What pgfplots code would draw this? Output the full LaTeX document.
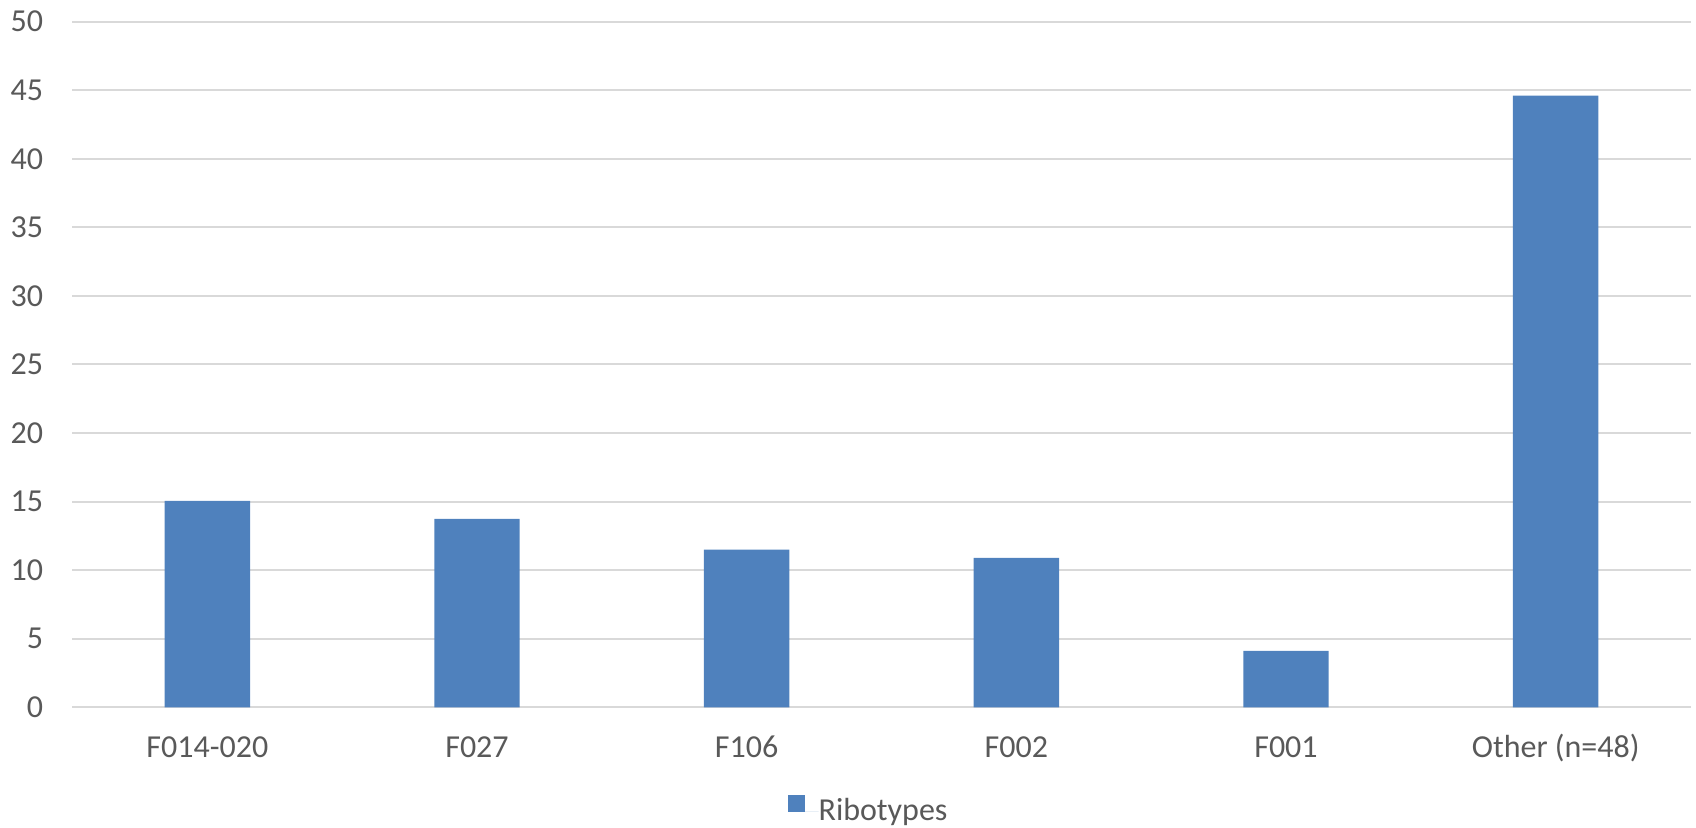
\documentclass[border=0pt]{standalone}
\usepackage{pgfplots}
\pgfplotsset{compat=1.18}
\usepackage{fontspec}
\setmainfont{Carlito}
\definecolor{barblue}{HTML}{4F81BD}
\definecolor{txtgray}{HTML}{595959}
\definecolor{gridgray}{HTML}{D9D9D9}
\begin{document}
\fontsize{16pt}{19pt}\selectfont
\begin{tikzpicture}
\path[use as bounding box] (-36.25pt,-60.3pt) rectangle (811.75pt,353.7pt);
\begin{axis}[
  at={(0pt,0pt)}, anchor=south west,
  scale only axis,
  width=809pt, height=342.9pt,
  xmin=-0.5, xmax=5.5,
  ymin=0, ymax=50,
  ytick={0,5,...,50},
  xtick=data,
  xticklabels={F014-020,F027,F106,F002,F001,Other (n=48)},
  major tick length=0pt,
  axis line style={draw=none},
  ymajorgrids,
  grid style={color=gridgray, line width=1pt},
  /pgf/number format/assume math mode=true,
  tick label style={font=\fontsize{16pt}{19pt}\selectfont, text=txtgray, inner sep=0pt},
  yticklabel style={anchor=east, xshift=-14.5pt},
  xticklabel style={anchor=base, yshift=-25pt},
  ybar, bar width=42.7pt,
  legend style={draw=none, at={(0.4915,-0.1496)}, anchor=center,
    font=\fontsize{16pt}{19pt}\selectfont, text=txtgray,
    nodes={inner sep=0pt}},
  legend image code/.code={\fill[#1,draw=none,/tikz/.cd] (0pt,0pt) rectangle (8.5pt,8.5pt);
    \path (0pt,0pt) -- (15.3pt,0pt);},
  legend cell align=left,
]
\addplot[fill=barblue, draw=none] coordinates {(0,15.06) (1,13.75) (2,11.5) (3,10.9) (4,4.12) (5,44.6)};
\legend{Ribotypes}
\end{axis}
\end{tikzpicture}
\end{document}
